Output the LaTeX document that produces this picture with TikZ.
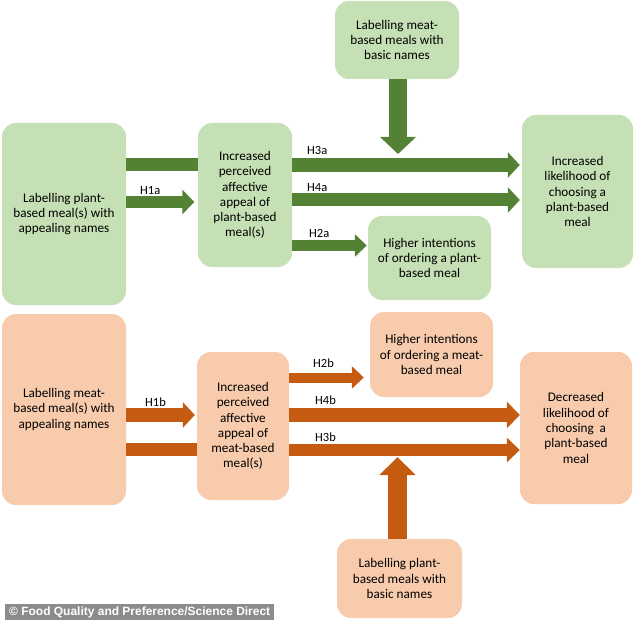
\documentclass[tikz,border=0pt]{standalone}
\usepackage{fontspec}
\setmainfont{Carlito}
\newfontfamily\credfont{Liberation Sans}
\usetikzlibrary{arrows.meta}
\definecolor{gbox}{HTML}{C5E0B4}
\definecolor{garr}{HTML}{548235}
\definecolor{obox}{HTML}{F8CBAD}
\definecolor{oarr}{HTML}{C55A11}
\definecolor{credgray}{HTML}{8C8C8C}
\tikzset{
  box/.style={rounded corners=14pt, inner sep=2pt, align=center,
    font=\fontsize{13.2}{15.3}\selectfont},
  gnode/.style={box, fill=gbox},
  onode/.style={box, fill=obox},
  hlabel/.style={font=\fontsize{12.5}{14}\selectfont, anchor=west, inner sep=0pt},
  bar/.style={line width=#1},
  harrow/.style n args={3}{line width=#1, -{Triangle[width=#2, length=#3]}},
}
\begin{document}
\begin{tikzpicture}[x=1pt,y=-1pt]
\useasboundingbox (0,0) rectangle (634,620);
% ---------- green part ----------
\node[gnode, minimum width=124pt, minimum height=182pt] (A) at (64,214)
  {Labelling plant-\\based meal(s) with\\appealing names};
\node[gnode, minimum width=94pt, minimum height=144pt] (M) at (245,195)
  {Increased\\perceived\\affective\\appeal of\\plant-based\\meal(s)};
\node[gnode, minimum width=124pt, minimum height=78pt] (T) at (397,40)
  {Labelling meat-\\based meals with\\basic names};
\node[gnode, minimum width=111pt, minimum height=153pt] (R) at (577.5,191.5)
  {Increased\\likelihood of\\choosing a\\plant-based\\meal};
\node[gnode, minimum width=123pt, minimum height=84pt] (I) at (429.5,258)
  {Higher intentions\\of ordering a plant-\\based meal};
\coordinate (dtip) at (398,154);
% green connectors
\draw[garr, bar=13pt] (A.east |- 0,164.5) -- (M.west |- 0,164.5);
\draw[garr, harrow={12pt}{24pt}{12pt}, shorten >=3.5pt] (A.east |- 0,202) -- (M.west |- 0,202);
\draw[garr, harrow={14pt}{25pt}{12pt}, shorten >=2pt] (M.east |- 0,165) -- (R.west |- 0,165);
\draw[garr, harrow={13pt}{25pt}{12pt}, shorten >=2pt] (M.east |- 0,200) -- (R.west |- 0,200);
\draw[garr, harrow={11pt}{22pt}{12pt}, shorten >=1pt] (M.east |- 0,245.5) -- (I.west |- 0,245.5);
\draw[garr, harrow={18pt}{35pt}{17pt}] (dtip |- T.south) -- (dtip);
\node[hlabel] (h1a) at (140,191) {H1a};
\node[hlabel] (h3a) at (307,150) {H3a};
\node[hlabel] (h4a) at (307,188) {H4a};
\node[hlabel] (h2a) at (309,233) {H2a};
% ---------- orange part ----------
\node[onode, minimum width=124pt, minimum height=191pt] (A2) at (64,409.5)
  {Labelling meat-\\based meal(s) with\\appealing names};
\node[onode, minimum width=92pt, minimum height=148pt] (M2) at (243,426)
  {Increased\\perceived\\affective\\appeal of\\meat-based\\meal(s)};
\node[onode, minimum width=123pt, minimum height=85pt] (I2) at (431.5,354.5)
  {Higher intentions\\of ordering a meat-\\based meal};
\node[onode, minimum width=112pt, minimum height=152pt] (R2) at (576,428)
  {Decreased\\likelihood of\\choosing\ \ a\\plant-based\\meal};
\node[onode, minimum width=125pt, minimum height=79pt] (B) at (399.5,578.5)
  {Labelling plant-\\based meals with\\basic names};
\coordinate (utip) at (397.5,457);
% orange connectors
\draw[oarr, bar=13pt] (A2.east |- 0,449.5) -- (M2.west |- 0,449.5);
\draw[oarr, harrow={14pt}{25pt}{12pt}, shorten >=2pt] (A2.east |- 0,415) -- (M2.west |- 0,415);
\draw[oarr, harrow={10pt}{22pt}{12pt}, shorten >=6pt] (M2.east |- 0,377.5) -- (I2.west |- 0,377.5);
\draw[oarr, harrow={14pt}{26pt}{13pt}] (M2.east |- 0,415) -- (R2.west |- 0,415);
\draw[oarr, harrow={12pt}{24pt}{13pt}] (M2.east |- 0,450) -- (R2.west |- 0,450);
\draw[oarr, harrow={19pt}{35pt}{18pt}] (utip |- B.north) -- (utip);
\node[hlabel] (h1b) at (145,402) {H1b};
\node[hlabel] (h2b) at (313,363) {H2b};
\node[hlabel] (h4b) at (315,400) {H4b};
\node[hlabel] (h3b) at (315,437) {H3b};
% ---------- credit ----------
\node[fill=credgray, text=white, anchor=north west, minimum width=269pt, minimum height=16pt,
  inner sep=0pt, font=\credfont\bfseries\fontsize{10.5}{12}\selectfont] (cr) at (5,604)
  {\resizebox{261pt}{!}{\textcopyright{} Food Quality and Preference/Science Direct}};
\end{tikzpicture}
\end{document}
